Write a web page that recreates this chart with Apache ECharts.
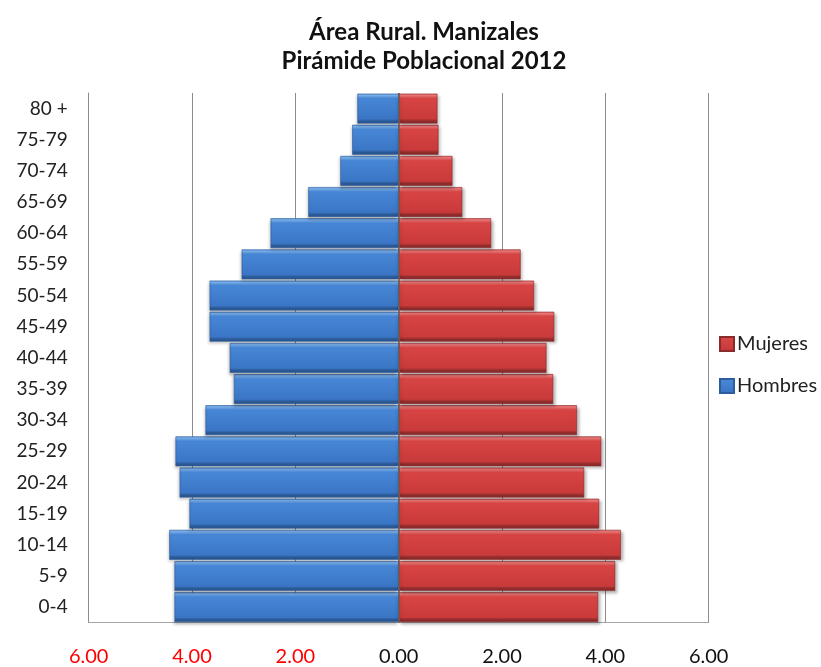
<!DOCTYPE html>
<html>
<head>
<meta charset="utf-8">
<script src="https://cdn.jsdelivr.net/npm/echarts@6/dist/echarts.min.js"></script>
<style>html,body{margin:0;padding:0;background:#fff}#c{width:821px;height:667px}</style>
</head>
<body>
<div id="c"></div>
<script>
const titleLines = ['Área Rural. Manizales', 'Pirámide Poblacional 2012'];
const categories = ['0-4','5-9','10-14','15-19','20-24','25-29','30-34','35-39','40-44','45-49','50-54','55-59','60-64','65-69','70-74','75-79','80 +'];
const hombres = [4.34,4.34,4.44,4.05,4.24,4.32,3.74,3.19,3.27,3.66,3.66,3.04,2.48,1.75,1.13,0.90,0.80];
const mujeres = [3.86,4.19,4.30,3.88,3.59,3.92,3.45,2.99,2.86,3.01,2.62,2.36,1.79,1.23,1.04,0.77,0.75];
const axisMin = -6, axisMax = 6, axisStep = 2;

const FONT = 'Lato';
function grad(c0, c1, c2, c3, c4) {
  return new echarts.graphic.LinearGradient(0, 0, 0, 1, [
    {offset: 0, color: c0}, {offset: 0.06, color: c1}, {offset: 0.16, color: c2},
    {offset: 0.84, color: c3}, {offset: 0.92, color: c4}, {offset: 1, color: c4}
  ]);
}
const blueGrad = grad('#5b97e0', '#7fb6f2', '#4786d6', '#3b76c6', '#2a5894');
const redGrad = grad('#e45a5a', '#f27c7c', '#d84444', '#c93a3a', '#8e2b2b');

const chart = echarts.init(document.getElementById('c'), null, {renderer: 'canvas'});
chart.setOption({
  animation: false,
  backgroundColor: '#fff',
  title: {
    text: titleLines.join('\n'),
    left: 419, top: 13, textAlign: 'center',
    textStyle: {fontFamily: FONT, fontWeight: 'bold', fontSize: 24, color: '#111', lineHeight: 29}
  },
  legend: {
    data: ['Mujeres', 'Hombres'],
    orient: 'vertical', left: 714, top: 329,
    itemWidth: 14, itemHeight: 14, itemGap: 22,
    icon: 'rect',
    textStyle: {fontFamily: FONT, fontSize: 20, color: '#222', padding: [0, 0, 0, -2]}
  },
  grid: {left: 88.7, right: 112.3, top: 93, bottom: 44.3, containLabel: false},
  xAxis: {
    type: 'value', min: axisMin, max: axisMax, interval: axisStep,
    axisLine: {show: true, onZero: false, lineStyle: {color: '#a6a6a6', width: 1}},
    axisTick: {show: false},
    splitLine: {show: true, lineStyle: {color: '#8c8c8c', width: 1}},
    axisLabel: {
      margin: 24, fontFamily: FONT, fontSize: 20,
      formatter: v => Math.abs(v).toFixed(2),
      color: v => (v < 0 ? '#ff0000' : '#111')
    }
  },
  yAxis: {
    type: 'category', data: categories,
    axisLine: {show: true, onZero: false, lineStyle: {color: '#8c8c8c'}},
    axisTick: {show: false},
    axisLabel: {margin: 21, fontFamily: FONT, fontSize: 19, color: '#222'}
  },
  series: [
    {
      name: 'Hombres', type: 'bar', data: hombres.map(v => -v),
      barCategoryGap: '4%', barGap: '-100%',
      itemStyle: {color: blueGrad, borderColor: '#2d5d9c', borderWidth: 0.6,
        shadowColor: 'rgba(0,0,0,0.28)', shadowBlur: 3, shadowOffsetX: -1, shadowOffsetY: 2}
    },
    {
      name: 'Mujeres', type: 'bar', data: mujeres,
      barCategoryGap: '4%', barGap: '-100%',
      itemStyle: {color: redGrad, borderColor: '#8a2a2a', borderWidth: 0.6,
        shadowColor: 'rgba(0,0,0,0.28)', shadowBlur: 3, shadowOffsetX: 2, shadowOffsetY: 2},
      markLine: {
        silent: true, symbol: 'none', label: {show: false},
        lineStyle: {color: '#6e5a5a', width: 1.5, type: 'solid'},
        data: [{xAxis: 0}]
      }
    }
  ]
});
</script>
</body>
</html>
